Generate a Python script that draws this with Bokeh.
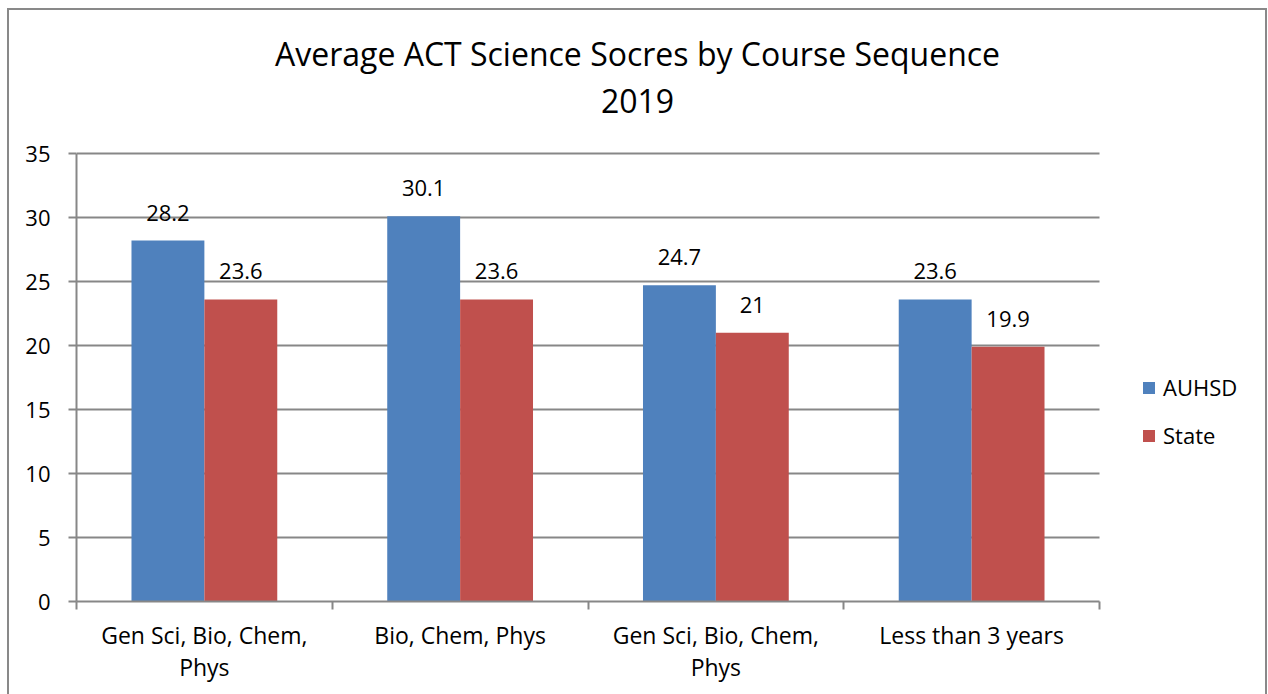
from bokeh.plotting import figure
from bokeh.models import (ColumnDataSource, FixedTicker, LabelSet, Label, Legend,
                          LegendItem, InlineStyleSheet, Grid)
from bokeh.core.properties import value
from bokeh.embed import file_html
from bokeh.resources import INLINE

categories = ["Gen Sci, Bio, Chem,\nPhys", "Bio, Chem, Phys",
              "Gen Sci, Bio, Chem,\nPhys", "Less than 3 years"]
auhsd = [28.2, 30.1, 24.7, 23.6]
state = [23.6, 23.6, 21.0, 19.9]
series_names = ["AUHSD", "State"]
y_ticks = [0, 5, 10, 15, 20, 25, 30, 35]
title_lines = ["Average ACT Science Socres by Course Sequence", "2019"]

BLUE = "#4F81BD"
RED = "#C0504D"
GRID = "#878787"
FONT = "Open Sans"

W, H = 1268, 694
LEFT, BOTTOM = 76, 93          # plot-area offsets in the page
PLOT_W, PLOT_H = 1023, 448     # size of the gridded plot area
n = len(categories)
y_max = y_ticks[-1]
# frame extends to the top and right edge so that title and legend are drawn inside it
x_end = n * (W - LEFT) / PLOT_W
y_end = y_max * (H - BOTTOM) / PLOT_H

centers = [i + 0.5 for i in range(n)]
bw = 0.285

def fmt(v):
    return ("%g" % v)

src_a = ColumnDataSource(dict(x=[c - bw / 2 for c in centers], top=auhsd,
                              txt=[fmt(v) for v in auhsd]))
src_s = ColumnDataSource(dict(x=[c + bw / 2 for c in centers], top=state,
                              txt=[fmt(v) for v in state]))

p = figure(width=W, height=H, x_range=(0, x_end), y_range=(0, y_end), title=None,
           output_backend="svg", toolbar_location=None,
           min_border_left=LEFT, min_border_right=0, min_border_top=0,
           min_border_bottom=BOTTOM)
p.stylesheets = [InlineStyleSheet(css="""
:host { overflow: hidden; }
:host::after { content: ""; position: absolute; left: 7px; top: 8px;
  width: 1260px; height: 686px; box-sizing: border-box;
  border-style: solid; border-color: #898989; border-width: 2px 2px 0 2px;
  pointer-events: none; }
""")]

p.outline_line_color = None
p.xgrid.visible = False
p.ygrid.grid_line_color = GRID
p.ygrid.grid_line_width = 2
p.ygrid.ticker = FixedTicker(ticks=y_ticks)
if "cross_bounds" in Grid.properties():
    p.ygrid.cross_bounds = (0, n)
    p.ygrid.bounds = (0, y_max)
else:
    p.ygrid.visible = False
    p.segment(x0=[0] * len(y_ticks), y0=y_ticks, x1=[n] * len(y_ticks), y1=y_ticks,
              line_color=GRID, line_width=2)

r1 = p.vbar(x="x", top="top", width=bw, source=src_a, fill_color=BLUE, line_color=None)
r2 = p.vbar(x="x", top="top", width=bw, source=src_s, fill_color=RED, line_color=None)

for src in (src_a, src_s):
    p.add_layout(LabelSet(x="x", y="top", text="txt", source=src, y_offset=20,
                          text_align="center", text_baseline="bottom",
                          text_font=value(FONT), text_font_size="22px",
                          text_color="#000000"))

p.yaxis.ticker = FixedTicker(ticks=y_ticks)
p.yaxis.bounds = (0, y_max)
p.yaxis.axis_line_color = GRID
p.yaxis.axis_line_width = 2
p.yaxis.major_tick_line_color = GRID
p.yaxis.major_tick_line_width = 2
p.yaxis.major_tick_out = 8
p.yaxis.major_tick_in = 0
p.yaxis.minor_tick_line_color = None
p.yaxis.major_label_text_font = FONT
p.yaxis.major_label_text_font_size = "22px"
p.yaxis.major_label_text_color = "#000000"
p.yaxis.major_label_standoff = 18

p.xaxis.ticker = FixedTicker(ticks=centers, minor_ticks=list(range(n + 1)))
p.xaxis.bounds = (0, n)
p.xaxis.major_label_overrides = {c: lab for c, lab in zip(centers, categories)}
p.xaxis.axis_line_color = GRID
p.xaxis.axis_line_width = 2
p.xaxis.major_tick_line_color = None
p.xaxis.minor_tick_line_color = GRID
p.xaxis.minor_tick_line_width = 2
p.xaxis.minor_tick_out = 8
p.xaxis.minor_tick_in = 0
p.xaxis.major_label_text_font = FONT
p.xaxis.major_label_text_font_size = "23px"
p.xaxis.major_label_text_line_height = 1.0
p.xaxis.major_label_text_color = "#000000"
p.xaxis.major_label_standoff = 9

# title lines (screen units, measured from the frame's bottom-left corner)
p.add_layout(Label(x=561, y=548, x_units="screen", y_units="screen", text=title_lines[0],
                   text_align="center", text_baseline="middle", text_font=FONT,
                   text_font_size="32px", text_color="#000000"))
p.add_layout(Label(x=561, y=501, x_units="screen", y_units="screen", text=title_lines[1],
                   text_align="center", text_baseline="middle", text_font=FONT,
                   text_font_size="32px", text_color="#000000"))

legend = Legend(items=[LegendItem(label=series_names[0], renderers=[r1]),
                       LegendItem(label=series_names[1], renderers=[r2])],
                location=(1065, 151), orientation="vertical")
legend.border_line_color = None
legend.background_fill_alpha = 0
legend.padding = 0
legend.margin = 0
legend.glyph_width = 15
legend.glyph_height = 15
legend.label_standoff = 7
legend.spacing = 18
legend.label_text_font = FONT
legend.label_text_font_size = "22px"
legend.label_text_color = "#000000"
p.add_layout(legend, "center")

open("out.html", "w").write(file_html(p, INLINE))
